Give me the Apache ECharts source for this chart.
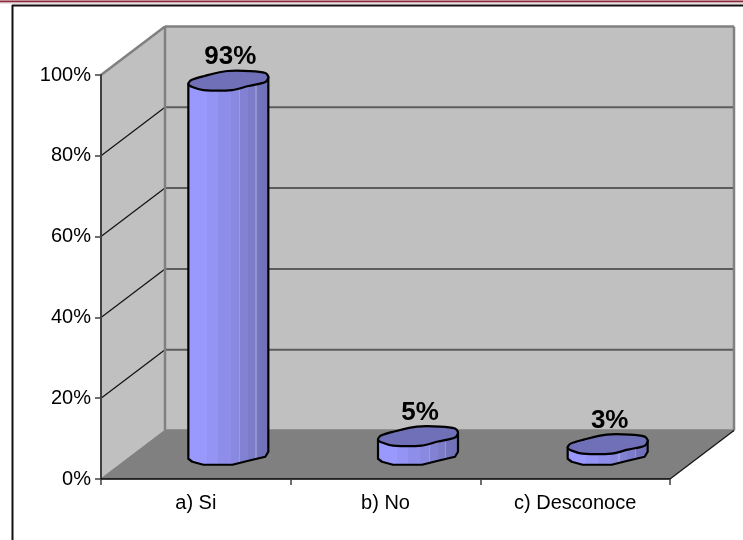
<!DOCTYPE html>
<html>
<head>
<meta charset="utf-8">
<style>html,body{margin:0;padding:0;background:#fff}#chart{width:743px;height:540px}</style>
<script src="https://cdn.jsdelivr.net/npm/echarts@6/dist/echarts.min.js"></script>
</head>
<body>
<div id="chart"></div>
<script>
// Survey answers, as shares of all respondents
const categories = ['a) Si', 'b) No', 'c) Desconoce'];
const shares = [0.93, 0.05, 0.03];
const shareLabels = ['93%', '5%', '3%'];
const gridTicks = [0, 0.2, 0.4, 0.6, 0.8, 1];

// Oblique projection: how far the rear plane sits from the front plane
const DEPTH_X = 64;
const DEPTH_Y = -48.5;

// Irregular cylinder section, in pixels around the centre of a cap
const capOutline = [
  [-40, 4], [-37, 0], [-24, -4], [-1, -9], [22, -9], [37, -7], [40, -3],
  [37, 2], [20, 6], [4, 10], [-25, 10], [-36, 7]
];
const LOWER_EDGE = [0, 11, 10, 9, 8, 7, 6];

const bodyFill = {
  type: 'linear', x: 0, y: 0, x2: 1, y2: 0,
  colorStops: [
    [0, '#9898fd'], [0.24, '#9898fd'], [0.24, '#9494f5'], [0.38, '#9494f5'],
    [0.38, '#8e8eea'], [0.53, '#8e8eea'], [0.53, '#8989e0'], [0.63, '#8989e0'],
    [0.63, '#9c9cdc'], [0.645, '#9c9cdc'], [0.645, '#8282d4'], [0.74, '#8282d4'],
    [0.74, '#7c7cc9'], [0.83, '#7c7cc9'], [0.83, '#9494d0'], [0.845, '#9494d0'],
    [0.845, '#7474bd'], [1, '#7070b6']
  ].map(([offset, color]) => ({ offset, color }))
};

// Back wall, side wall and floor of the plot box, with their gridlines
function renderBox(params, api) {
  const halfBand = api.size([1, 0])[0] / 2;
  const left = api.coord([0, 0])[0] - halfBand;
  const right = api.coord([categories.length - 1, 0])[0] + halfBand;
  const yBase = api.coord([0, 0])[1];
  const yTop = api.coord([0, 1])[1];
  const line = (x1, y1, x2, y2, stroke, lineWidth) => ({
    type: 'line', shape: { x1, y1, x2, y2 }, style: { stroke, lineWidth }
  });
  const children = [
    { type: 'polygon', shape: { points: [[left + DEPTH_X, yTop + DEPTH_Y], [right + DEPTH_X, yTop + DEPTH_Y], [right + DEPTH_X, yBase + DEPTH_Y], [left + DEPTH_X, yBase + DEPTH_Y]] }, style: { fill: '#c0c0c0' } },
    { type: 'polygon', shape: { points: [[left, yTop], [left + DEPTH_X, yTop + DEPTH_Y], [left + DEPTH_X, yBase + DEPTH_Y], [left, yBase]] }, style: { fill: '#c0c0c0' } },
    { type: 'polygon', shape: { points: [[left, yBase], [left + DEPTH_X, yBase + DEPTH_Y], [right + DEPTH_X, yBase + DEPTH_Y], [right, yBase]] }, style: { fill: '#808080' } }
  ];
  gridTicks.forEach((tick) => {
    const y = api.coord([0, tick])[1];
    if (tick > 0 && tick < 1) {
      children.push(line(left + DEPTH_X, y + DEPTH_Y, right + DEPTH_X, y + DEPTH_Y, '#5c5c5c', 2));
      children.push(line(left, y, left + DEPTH_X, y + DEPTH_Y, '#111', 1.2));
    }
  });
  children.push(line(left + DEPTH_X, yTop + DEPTH_Y, right + DEPTH_X, yTop + DEPTH_Y, '#808080', 2.5));
  children.push(line(left + DEPTH_X, yBase + DEPTH_Y, right + DEPTH_X, yBase + DEPTH_Y, '#808080', 2.5));
  children.push(line(left + DEPTH_X, yTop + DEPTH_Y, left + DEPTH_X, yBase + DEPTH_Y, '#808080', 2.5));
  children.push(line(right + DEPTH_X, yTop + DEPTH_Y, right + DEPTH_X, yBase + DEPTH_Y, '#808080', 2.5));
  children.push(line(left, yTop, left + DEPTH_X, yTop + DEPTH_Y, '#808080', 2.5));
  children.push(line(left, yBase, left + DEPTH_X, yBase + DEPTH_Y, '#808080', 1.5));
  children.push(line(right, yBase, right + DEPTH_X, yBase + DEPTH_Y, '#111', 1.2));
  return { type: 'group', children };
}

// One cylinder standing halfway back on the floor, with its value above the cap
function renderCylinder(params, api) {
  const index = api.value(0);
  const base = api.coord([index, 0]);
  const top = api.coord([index, api.value(1)]);
  const cx = base[0] + DEPTH_X / 2 + 0.5;
  const baseY = base[1] + DEPTH_Y / 2;
  const topY = top[1] + DEPTH_Y / 2 + 1;
  const capPoints = capOutline.map(([dx, dy]) => [cx + dx, topY + dy]);
  const lower = LOWER_EDGE.map((i) => capOutline[i]);
  const bodyPoints = [
    ...lower.map(([dx, dy]) => [cx + dx, baseY + dy]),
    ...[capOutline[6], capOutline[0]].map(([dx, dy]) => [cx + dx, topY + dy])
  ];
  return {
    type: 'group',
    children: [
      { type: 'polygon', shape: { points: bodyPoints }, style: { fill: bodyFill, stroke: '#000', lineWidth: 2.2, lineJoin: 'round' } },
      { type: 'polygon', shape: { points: capPoints, smooth: 0.3 }, style: { fill: '#7070b8', stroke: '#000', lineWidth: 2.2 } },
      {
        type: 'text', x: cx + 2, y: topY - 23,
        style: { text: shareLabels[index], fill: '#000', font: 'bold 26px "Liberation Sans"', align: 'center', verticalAlign: 'middle' }
      }
    ]
  };
}

const chart = echarts.init(document.getElementById('chart'), null, { renderer: 'canvas' });
chart.setOption({
  animation: false,
  backgroundColor: '#fff',
  textStyle: { fontFamily: '"Liberation Sans"' },
  grid: { left: 101, right: 73, top: 75, bottom: 61 },
  xAxis: {
    type: 'category',
    data: categories,
    z: 4,
    axisLine: { lineStyle: { color: '#000', width: 1.5 } },
    axisTick: { show: true, length: 6, lineStyle: { color: '#404040', width: 1.5 } },
    axisLabel: { color: '#000', fontSize: 20, margin: 14, fontFamily: '"Liberation Sans"' },
    splitLine: { show: false }
  },
  yAxis: {
    type: 'value',
    min: 0,
    max: 1,
    interval: 0.2,
    z: 4,
    axisLine: { show: true, lineStyle: { color: '#404040', width: 2 } },
    axisTick: { show: true, length: 6, lineStyle: { color: '#404040', width: 1.5 } },
    axisLabel: { color: '#000', fontSize: 20, margin: 10, padding: [3, 0, 0, 0], fontFamily: '"Liberation Sans"', formatter: (v) => Math.round(v * 100) + '%' },
    splitLine: { show: false }
  },
  series: [
    { type: 'custom', z: 1, silent: true, data: [[0, 0]], renderItem: renderBox, clip: false },
    { type: 'custom', z: 3, silent: true, data: shares.map((v, i) => [i, v]), renderItem: renderCylinder, encode: { x: 0, y: 1 }, clip: false }
  ],
  graphic: [
    { type: 'rect', silent: true, shape: { x: 0, y: 0, width: 743, height: 1 }, style: { fill: '#c08a94' } },
    { type: 'rect', silent: true, shape: { x: 0, y: 1, width: 743, height: 1.5 }, style: { fill: '#8a2a3c' } },
    { type: 'rect', silent: true, shape: { x: 0, y: 2.5, width: 743, height: 1 }, style: { fill: '#d8c4c8' } },
    { type: 'line', silent: true, shape: { x1: 12, y1: 5.5, x2: 743, y2: 5.5 }, style: { stroke: '#111', lineWidth: 2 } },
    { type: 'line', silent: true, shape: { x1: 12.5, y1: 5, x2: 12.5, y2: 540 }, style: { stroke: '#111', lineWidth: 2 } }
  ]
});
</script>
</body>
</html>
